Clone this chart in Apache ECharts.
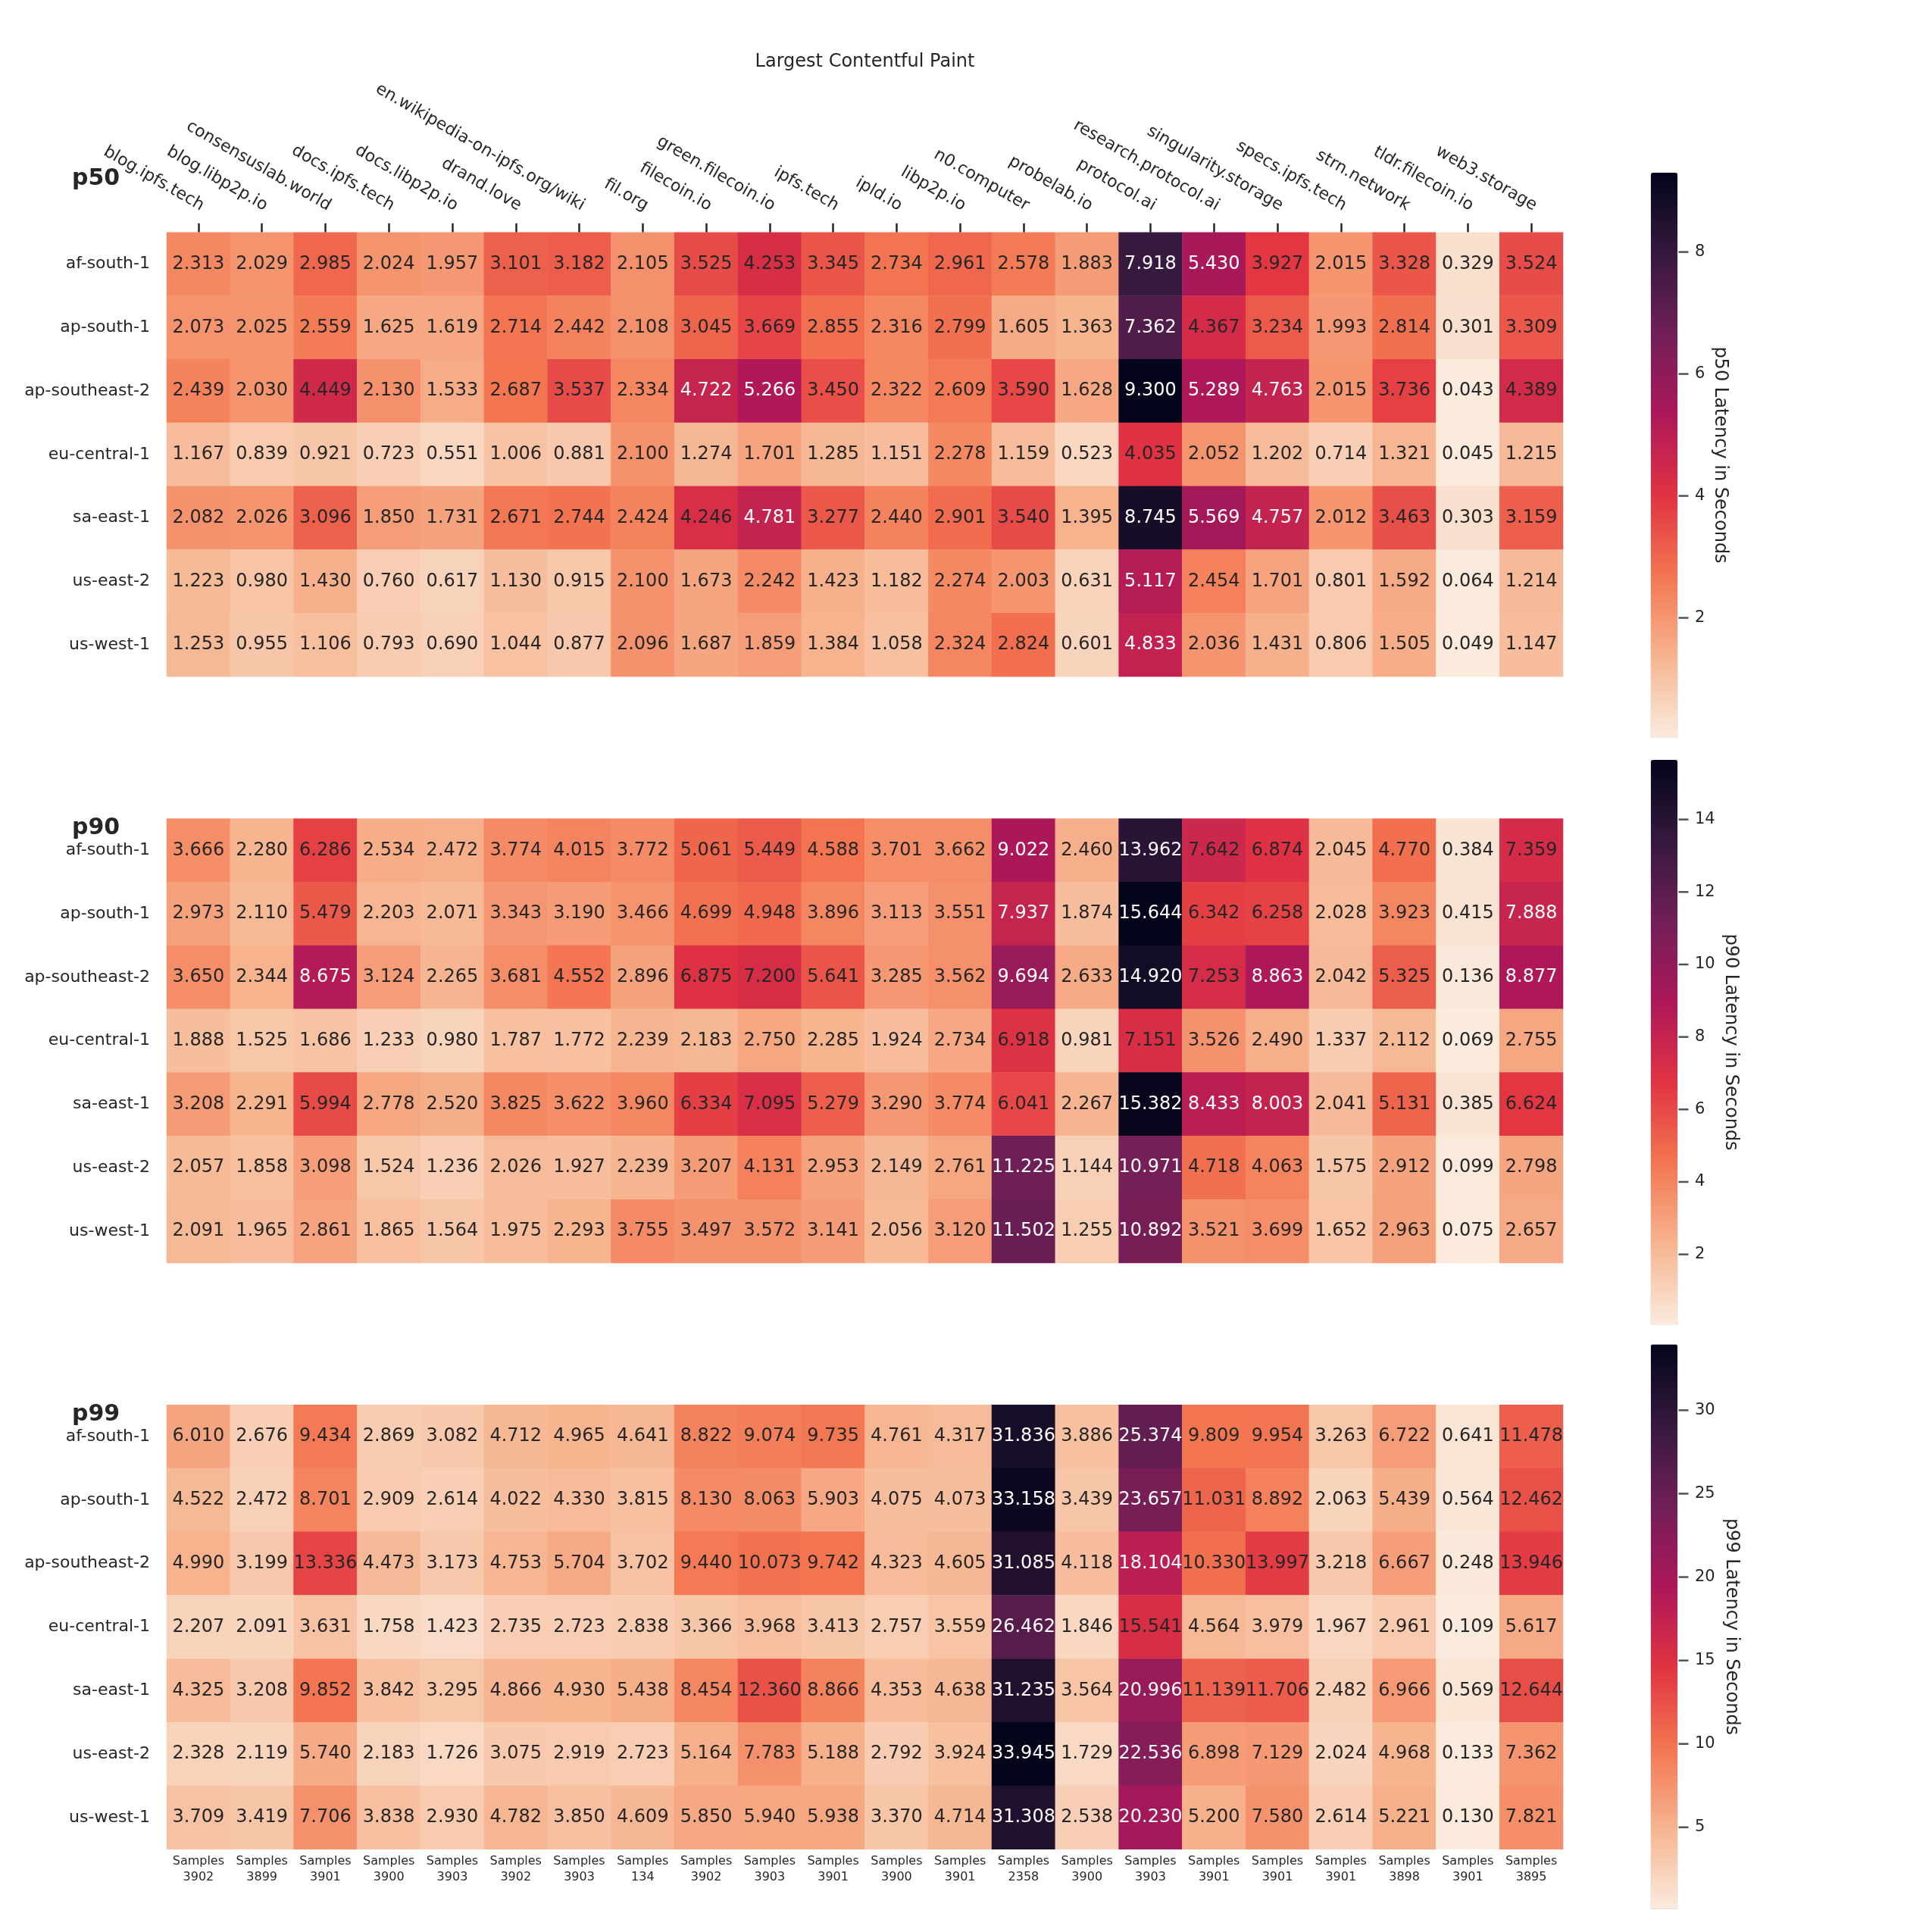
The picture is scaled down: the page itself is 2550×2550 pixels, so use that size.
<!DOCTYPE html>
<html><head><meta charset="utf-8">
<script src="https://cdn.jsdelivr.net/npm/echarts@6/dist/echarts.min.js"></script>
<style>html,body{margin:0;padding:0;background:#fff}#c{width:2550px;height:2550px}</style>
</head><body><div id="c"></div>
<script>
const chartTitle = 'Largest Contentful Paint';
const sites = ['blog.ipfs.tech','blog.libp2p.io','consensuslab.world','docs.ipfs.tech','docs.libp2p.io','drand.love','en.wikipedia-on-ipfs.org/wiki','fil.org','filecoin.io','green.filecoin.io','ipfs.tech','ipld.io','libp2p.io','n0.computer','probelab.io','protocol.ai','research.protocol.ai','singularity.storage','specs.ipfs.tech','strn.network','tldr.filecoin.io','web3.storage'];
const regions = ['af-south-1','ap-south-1','ap-southeast-2','eu-central-1','sa-east-1','us-east-2','us-west-1'];
const samples = [3902,3899,3901,3900,3903,3902,3903,134,3902,3903,3901,3900,3901,2358,3900,3903,3901,3901,3901,3898,3901,3895];
const panelNames = ['p50','p90','p99'];
const p50 = [
 [2.313,2.029,2.985,2.024,1.957,3.101,3.182,2.105,3.525,4.253,3.345,2.734,2.961,2.578,1.883,7.918,5.430,3.927,2.015,3.328,0.329,3.524],
 [2.073,2.025,2.559,1.625,1.619,2.714,2.442,2.108,3.045,3.669,2.855,2.316,2.799,1.605,1.363,7.362,4.367,3.234,1.993,2.814,0.301,3.309],
 [2.439,2.030,4.449,2.130,1.533,2.687,3.537,2.334,4.722,5.266,3.450,2.322,2.609,3.590,1.628,9.300,5.289,4.763,2.015,3.736,0.043,4.389],
 [1.167,0.839,0.921,0.723,0.551,1.006,0.881,2.100,1.274,1.701,1.285,1.151,2.278,1.159,0.523,4.035,2.052,1.202,0.714,1.321,0.045,1.215],
 [2.082,2.026,3.096,1.850,1.731,2.671,2.744,2.424,4.246,4.781,3.277,2.440,2.901,3.540,1.395,8.745,5.569,4.757,2.012,3.463,0.303,3.159],
 [1.223,0.980,1.430,0.760,0.617,1.130,0.915,2.100,1.673,2.242,1.423,1.182,2.274,2.003,0.631,5.117,2.454,1.701,0.801,1.592,0.064,1.214],
 [1.253,0.955,1.106,0.793,0.690,1.044,0.877,2.096,1.687,1.859,1.384,1.058,2.324,2.824,0.601,4.833,2.036,1.431,0.806,1.505,0.049,1.147]
];
const p90 = [
 [3.666,2.280,6.286,2.534,2.472,3.774,4.015,3.772,5.061,5.449,4.588,3.701,3.662,9.022,2.460,13.962,7.642,6.874,2.045,4.770,0.384,7.359],
 [2.973,2.110,5.479,2.203,2.071,3.343,3.190,3.466,4.699,4.948,3.896,3.113,3.551,7.937,1.874,15.644,6.342,6.258,2.028,3.923,0.415,7.888],
 [3.650,2.344,8.675,3.124,2.265,3.681,4.552,2.896,6.875,7.200,5.641,3.285,3.562,9.694,2.633,14.920,7.253,8.863,2.042,5.325,0.136,8.877],
 [1.888,1.525,1.686,1.233,0.980,1.787,1.772,2.239,2.183,2.750,2.285,1.924,2.734,6.918,0.981,7.151,3.526,2.490,1.337,2.112,0.069,2.755],
 [3.208,2.291,5.994,2.778,2.520,3.825,3.622,3.960,6.334,7.095,5.279,3.290,3.774,6.041,2.267,15.382,8.433,8.003,2.041,5.131,0.385,6.624],
 [2.057,1.858,3.098,1.524,1.236,2.026,1.927,2.239,3.207,4.131,2.953,2.149,2.761,11.225,1.144,10.971,4.718,4.063,1.575,2.912,0.099,2.798],
 [2.091,1.965,2.861,1.865,1.564,1.975,2.293,3.755,3.497,3.572,3.141,2.056,3.120,11.502,1.255,10.892,3.521,3.699,1.652,2.963,0.075,2.657]
];
const p99 = [
 [6.010,2.676,9.434,2.869,3.082,4.712,4.965,4.641,8.822,9.074,9.735,4.761,4.317,31.836,3.886,25.374,9.809,9.954,3.263,6.722,0.641,11.478],
 [4.522,2.472,8.701,2.909,2.614,4.022,4.330,3.815,8.130,8.063,5.903,4.075,4.073,33.158,3.439,23.657,11.031,8.892,2.063,5.439,0.564,12.462],
 [4.990,3.199,13.336,4.473,3.173,4.753,5.704,3.702,9.440,10.073,9.742,4.323,4.605,31.085,4.118,18.104,10.330,13.997,3.218,6.667,0.248,13.946],
 [2.207,2.091,3.631,1.758,1.423,2.735,2.723,2.838,3.366,3.968,3.413,2.757,3.559,26.462,1.846,15.541,4.564,3.979,1.967,2.961,0.109,5.617],
 [4.325,3.208,9.852,3.842,3.295,4.866,4.930,5.438,8.454,12.360,8.866,4.353,4.638,31.235,3.564,20.996,11.139,11.706,2.482,6.966,0.569,12.644],
 [2.328,2.119,5.740,2.183,1.726,3.075,2.919,2.723,5.164,7.783,5.188,2.792,3.924,33.945,1.729,22.536,6.898,7.129,2.024,4.968,0.133,7.362],
 [3.709,3.419,7.706,3.838,2.930,4.782,3.850,4.609,5.850,5.940,5.938,3.370,4.714,31.308,2.538,20.230,5.200,7.580,2.614,5.221,0.130,7.821]
];
const cbTicks50 = [2,4,6,8];
const cbTicks90 = [2,4,6,8,10,12,14];
const cbTicks99 = [5,10,15,20,25,30];

const FONT = 'DejaVu Sans';
const TXT = '#262626';
const rocketR = ['#faebdd','#f6b48f','#f37651','#e13342','#ad1759','#701f57','#35193e','#03051a'];
const mats = [p50, p90, p99];
const ticksList = [cbTicks50, cbTicks90, cbTicks99];

const GL = 220, GW = 1843, CELL = GW / 22, GH = CELL * 7;
const gridTops = [306.7, 1080.5, 1854.3];
const cbTops = [228, 1003, 1774.5], CBL = 2179, CBW = 35, CBH = 745;
const cbLabelX = [2270, 2284, 2285];
const labelY = [236, 1093.5, 1867];

const grids = [], xAxes = [], yAxes = [], series = [], vms = [], graphics = [];
const cbGrids = [], cbX = [], cbY = [], tickSeries = [];
graphics.push({type:'text', x: GL + GW/2, y: 82, style:{text: chartTitle, font: '24px "DejaVu Sans"', fill: TXT, align:'center', verticalAlign:'middle'}});

mats.forEach((mat, i) => {
  const flat = mat.flat();
  const lo = Math.min(...flat), hi = Math.max(...flat);
  grids.push({left: GL, top: gridTops[i], width: GW, height: GH, outerBoundsMode: 'none', containLabel: false});
  xAxes.push({
    gridIndex: i, type: 'category',
    data: i === 2 ? samples.map(s => 'Samples\n' + s) : sites,
    position: i === 0 ? 'top' : 'bottom', show: i !== 1,
    axisLine: {show: false},
    axisTick: {show: i === 0, alignWithLabel: true, length: 12, lineStyle: {color: TXT, width: 2.5}},
    axisLabel: i === 0
      ? {rotate: 30, interval: 0, fontSize: 22, fontFamily: FONT, color: TXT, margin: 24, align: 'right', verticalAlign: 'bottom'}
      : {interval: 0, fontSize: 16, lineHeight: 21, fontFamily: FONT, color: TXT, margin: 6},
    splitLine: {show: false}, splitArea: {show: false}
  });
  yAxes.push({
    gridIndex: i, type: 'category', data: regions, inverse: true,
    axisLine: {show: false}, axisTick: {show: false},
    axisLabel: {fontSize: 22, fontFamily: FONT, color: TXT, margin: 22},
    splitLine: {show: false}, splitArea: {show: false}
  });
  const data = [];
  mat.forEach((row, r) => row.forEach((v, c) => {
    const t = (v - lo) / (hi - lo);
    data.push({value: [c, r, v], label: {color: t > 0.495 ? '#ffffff' : TXT}});
  }));
  series.push({
    type: 'heatmap', xAxisIndex: i, yAxisIndex: i, data,
    label: {show: true, fontSize: 24, fontFamily: FONT, formatter: p => p.value[2].toFixed(3)},
    itemStyle: {borderWidth: 0}, emphasis: {disabled: true}
  });
  vms.push({
    type: 'continuous', seriesIndex: i, dimension: 2, min: lo, max: hi,
    inRange: {color: rocketR}, calculable: false, orient: 'vertical',
    left: CBL, top: cbTops[i], itemWidth: CBW, itemHeight: CBH, padding: 0,
    textStyle: {color: 'rgba(0,0,0,0)', fontSize: 1}, hoverLink: false
  });
  // colorbar axis (grids 3..5)
  const gi = 3 + i;
  cbGrids.push({left: CBL, top: cbTops[i], width: CBW, height: CBH, outerBoundsMode: 'none', containLabel: false,
    show: true, borderColor: '#dcdce4', borderWidth: 1, backgroundColor: 'transparent'});
  cbX.push({gridIndex: gi, type: 'value', show: false, min: 0, max: 1});
  cbY.push({
    gridIndex: gi, type: 'value', min: lo, max: hi, position: 'right',
    axisLine: {show: false}, splitLine: {show: false},
    axisTick: {show: true, length: 13, customValues: ticksList[i], lineStyle: {color: TXT, width: 2.5}},
    axisLabel: {customValues: ticksList[i], margin: 23, fontSize: 21, fontFamily: FONT, color: TXT}
  });
  // colorbar tick marks drawn through the colorbar's own value scale
  tickSeries.push({
    type: 'scatter', xAxisIndex: gi, yAxisIndex: gi, clip: false, silent: true,
    symbol: 'rect', symbolSize: [13, 2.5], symbolOffset: [8, 0],
    itemStyle: {color: TXT}, data: ticksList[i].map(t => [1, t]), z: 10
  });
  graphics.push({type:'text', x: cbLabelX[i], y: cbTops[i] + CBH/2, rotation: -Math.PI/2,
    style:{text: panelNames[i] + ' Latency in Seconds', font: '24px "DejaVu Sans"', fill: TXT, align:'center', verticalAlign:'middle'}});
  graphics.push({type:'text', x: 95, y: labelY[i],
    style:{text: panelNames[i], font: 'bold 30px "DejaVu Sans"', fill: TXT, align:'left', verticalAlign:'middle'}});
});

const chart = echarts.init(document.getElementById('c'), null, {renderer: 'canvas'});
chart.setOption({
  animation: false, backgroundColor: '#ffffff',
  textStyle: {fontFamily: FONT},
  grid: grids.concat(cbGrids), xAxis: xAxes.concat(cbX), yAxis: yAxes.concat(cbY),
  visualMap: vms, series: series.concat(tickSeries), graphic: graphics
});
</script></body></html>
